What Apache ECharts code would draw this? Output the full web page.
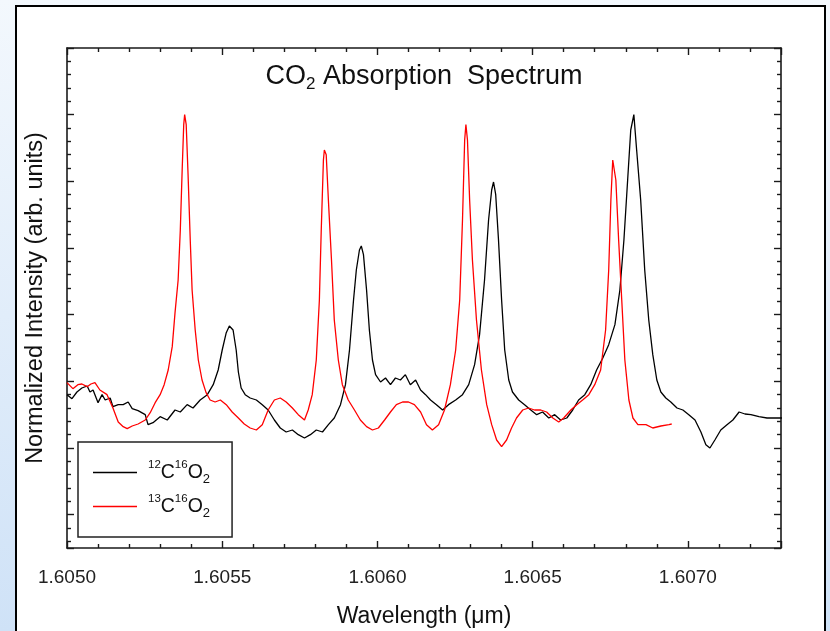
<!DOCTYPE html>
<html><head><meta charset="utf-8">
<script src="https://cdn.jsdelivr.net/npm/echarts@6/dist/echarts.min.js"></script>
<style>
html,body{margin:0;padding:0;width:830px;height:631px;overflow:hidden;background:linear-gradient(to bottom,#f3f8fd,#cfe2f7);}
#frame{position:absolute;left:15px;top:5px;width:807px;height:640px;border:2px solid #000;background:#fff;}
#chart{position:absolute;left:0;top:0;width:830px;height:631px;}
</style></head><body><div id="frame"></div><div id="chart"></div>
<script>
// Wavelength axis (micrometres)
const xMin = 1.6050, xMax = 1.6073, xStep = 0.0005;
const yMin = -0.05, yMax = 0.70;

// 12C16O2 spectrum
const wl12 = [1.605000,1.605016,1.605032,1.605048,1.605065,1.605074,1.605084,1.605100,1.605113,1.605123,1.605139,1.605148,1.605165,1.605181,1.605197,1.605210,1.605229,1.605252,1.605261,1.605277,1.605300,1.605323,1.605348,1.605365,1.605387,1.605406,1.605429,1.605452,1.605471,1.605487,1.605500,1.605513,1.605523,1.605529,1.605535,1.605545,1.605552,1.605561,1.605574,1.605590,1.605610,1.605629,1.605648,1.605668,1.605687,1.605706,1.605726,1.605745,1.605765,1.605784,1.605803,1.605823,1.605842,1.605861,1.605881,1.605897,1.605910,1.605923,1.605932,1.605942,1.605948,1.605955,1.605965,1.605974,1.605984,1.605994,1.606010,1.606026,1.606042,1.606058,1.606074,1.606090,1.606106,1.606123,1.606139,1.606155,1.606171,1.606190,1.606210,1.606229,1.606252,1.606274,1.606294,1.606313,1.606329,1.606345,1.606358,1.606368,1.606374,1.606381,1.606390,1.606400,1.606410,1.606423,1.606435,1.606455,1.606474,1.606494,1.606513,1.606532,1.606552,1.606571,1.606590,1.606610,1.606629,1.606648,1.606668,1.606687,1.606706,1.606726,1.606745,1.606765,1.606781,1.606794,1.606806,1.606816,1.606826,1.606835,1.606848,1.606861,1.606874,1.606887,1.606900,1.606913,1.606929,1.606945,1.606965,1.606984,1.607003,1.607023,1.607042,1.607058,1.607071,1.607087,1.607106,1.607126,1.607145,1.607165,1.607184,1.607203,1.607229,1.607255,1.607281,1.607303];
const int12 = [0.180,0.174,0.184,0.190,0.193,0.184,0.187,0.168,0.180,0.172,
0.175,0.162,0.165,0.165,0.169,0.159,0.156,0.150,0.135,0.138,
0.147,0.142,0.157,0.154,0.165,0.160,0.172,0.180,0.195,0.217,
0.247,0.273,0.283,0.285,0.277,0.247,0.214,0.190,0.180,0.175,
0.172,0.165,0.157,0.142,0.130,0.124,0.127,0.120,0.115,0.120,
0.127,0.124,0.135,0.145,0.165,0.195,0.247,0.322,0.367,0.397,
0.403,0.390,0.337,0.277,0.232,0.210,0.199,0.205,0.195,0.205,
0.202,0.210,0.195,0.202,0.187,0.180,0.172,0.165,0.157,0.165,
0.172,0.180,0.195,0.225,0.270,0.352,0.442,0.487,0.499,0.480,
0.412,0.322,0.247,0.202,0.184,0.172,0.165,0.157,0.150,0.154,
0.145,0.150,0.142,0.145,0.157,0.172,0.180,0.195,0.217,0.235,
0.255,0.285,0.337,0.412,0.502,0.577,0.600,0.547,0.472,0.367,
0.292,0.240,0.202,0.184,0.175,0.169,0.160,0.157,0.150,0.142,
0.124,0.105,0.100,0.112,0.127,0.135,0.142,0.154,0.151,0.150,
0.147,0.145,0.145,0.145];

// 13C16O2 spectrum
const wl13 = [1.605000,1.605019,1.605035,1.605048,1.605065,1.605077,1.605090,1.605106,1.605129,1.605148,1.605165,1.605181,1.605194,1.605210,1.605229,1.605252,1.605268,1.605284,1.605300,1.605313,1.605326,1.605339,1.605348,1.605358,1.605365,1.605371,1.605376,1.605379,1.605384,1.605390,1.605397,1.605403,1.605413,1.605423,1.605435,1.605448,1.605461,1.605477,1.605494,1.605513,1.605532,1.605552,1.605571,1.605590,1.605610,1.605629,1.605648,1.605668,1.605687,1.605706,1.605726,1.605745,1.605765,1.605777,1.605790,1.605803,1.605813,1.605819,1.605826,1.605829,1.605835,1.605842,1.605852,1.605861,1.605874,1.605887,1.605906,1.605926,1.605945,1.605965,1.605984,1.606003,1.606023,1.606042,1.606061,1.606081,1.606100,1.606119,1.606139,1.606158,1.606177,1.606197,1.606216,1.606235,1.606252,1.606265,1.606274,1.606281,1.606285,1.606290,1.606297,1.606306,1.606319,1.606335,1.606352,1.606368,1.606384,1.606400,1.606416,1.606432,1.606448,1.606468,1.606487,1.606506,1.606526,1.606545,1.606565,1.606584,1.606600,1.606623,1.606642,1.606661,1.606681,1.606700,1.606719,1.606735,1.606745,1.606752,1.606758,1.606761,1.606768,1.606777,1.606787,1.606797,1.606810,1.606823,1.606839,1.606865,1.606887,1.606913,1.606939,1.606948];
const int13 = [0.198,0.189,0.195,0.196,0.192,0.196,0.198,0.187,0.180,0.160,
0.139,0.132,0.129,0.133,0.136,0.142,0.153,0.168,0.180,0.195,
0.217,0.252,0.303,0.352,0.427,0.517,0.585,0.600,0.585,0.510,
0.412,0.337,0.277,0.232,0.202,0.183,0.172,0.169,0.172,0.165,
0.154,0.145,0.136,0.130,0.127,0.135,0.157,0.172,0.175,0.169,
0.160,0.150,0.142,0.157,0.180,0.232,0.322,0.427,0.532,0.547,
0.540,0.472,0.382,0.292,0.232,0.195,0.172,0.157,0.142,0.132,
0.127,0.130,0.142,0.154,0.165,0.169,0.169,0.165,0.154,0.135,
0.127,0.135,0.157,0.195,0.247,0.322,0.442,0.562,0.585,0.562,
0.472,0.382,0.292,0.217,0.165,0.135,0.112,0.102,0.112,0.130,
0.145,0.157,0.160,0.157,0.157,0.154,0.145,0.139,0.145,0.157,
0.165,0.172,0.180,0.195,0.217,0.277,0.367,0.472,0.532,0.535,
0.502,0.412,0.322,0.232,0.172,0.145,0.135,0.135,0.130,0.133,
0.135,0.136];

const seriesNames = ['12C16O2', '13C16O2'];
const legendRich = {
  '12C16O2': '{supL|12}{m|C}{sup|16}{m|O}{sub|2}',
  '13C16O2': '{supL|13}{m|C}{sup|16}{m|O}{sub|2}'
};

const FONT = "'Liberation Sans', Arial, sans-serif";
const AX = '#1a1a1a';
const zip = (xs, ys) => xs.map((x, i) => [x, ys[i]]);

function xAxisCfg(pos, showLabel) {
  return {
    type: 'value', position: pos, min: xMin, max: xMax, interval: xStep,
    axisLine: { show: true, onZero: false, lineStyle: { color: AX, width: 1.6 } },
    axisTick: { show: true, inside: true, length: 7, lineStyle: { color: AX, width: 1.4 } },
    minorTick: { show: true, splitNumber: 5, length: 4, lineStyle: { color: AX, width: 1.4 } },
    splitLine: { show: false }, minorSplitLine: { show: false },
    axisLabel: {
      show: showLabel, margin: 20, fontSize: 19, color: '#222', fontFamily: FONT,
      formatter: v => Math.abs(v / xStep - Math.round(v / xStep)) < 1e-6 ? v.toFixed(4) : ''
    },
    name: showLabel ? 'Wavelength (\u03BCm)' : '', nameLocation: 'middle', nameGap: 57,
    nameTextStyle: { fontSize: 23, color: '#111', fontFamily: FONT }
  };
}
function yAxisCfg(pos, showName) {
  return {
    type: 'value', position: pos, min: yMin, max: yMax, splitNumber: 8,
    axisLine: { show: true, onZero: false, lineStyle: { color: AX, width: 1.6 } },
    axisTick: { show: true, inside: true, length: 7, lineStyle: { color: AX, width: 1.4 } },
    minorTick: { show: true, splitNumber: 5, length: 4, lineStyle: { color: AX, width: 1.4 } },
    splitLine: { show: false }, minorSplitLine: { show: false },
    axisLabel: { show: false },
    name: showName ? 'Normalized Intensity (arb. units)' : '', nameLocation: 'middle', nameGap: 19,
    nameTextStyle: { fontSize: 23.5, color: '#111', fontFamily: FONT }
  };
}

const chart = echarts.init(document.getElementById('chart'), null, { renderer: 'canvas' });
chart.setOption({
  animation: false,
  backgroundColor: 'transparent',
  title: {
    text: '{m|CO}{s|2}{m| Absorption  Spectrum}',
    left: 424, top: 61, padding: 0, textAlign: 'center',
    textStyle: {
      fontWeight: 'normal',
      rich: {
        m: { fontSize: 27, lineHeight: 32, color: '#111', fontFamily: FONT, fontWeight: 'normal' },
        s: { fontSize: 17, lineHeight: 16, verticalAlign: 'bottom', color: '#111', fontFamily: FONT, fontWeight: 'normal' }
      }
    }
  },
  grid: { left: 67, right: 49, top: 48, bottom: 83, containLabel: false, outerBoundsMode: 'none' },
  xAxis: [xAxisCfg('bottom', true), xAxisCfg('top', false)],
  yAxis: [yAxisCfg('left', true), yAxisCfg('right', false)],
  legend: {
    data: seriesNames, orient: 'vertical', left: 78, top: 442,
    icon: 'rect', itemWidth: 44, itemHeight: 1.5, itemGap: 7,
    padding: [17, 22, 17, 15], borderColor: '#222', borderWidth: 1.5, backgroundColor: '#fff',
    selectedMode: false,
    formatter: n => legendRich[n],
    textStyle: {
      rich: {
        m: { fontSize: 19.5, lineHeight: 27, color: '#111', fontFamily: FONT },
        sup: { fontSize: 11.5, lineHeight: 9, verticalAlign: 'top', color: '#111', fontFamily: FONT },
        supL: { fontSize: 11.5, lineHeight: 9, verticalAlign: 'top', color: '#111', fontFamily: FONT, padding: [0, 0, 0, 6] },
        sub: { fontSize: 13, lineHeight: 12.5, verticalAlign: 'bottom', color: '#111', fontFamily: FONT }
      }
    }
  },
  series: [
    { name: seriesNames[0], type: 'line', symbol: 'none', showSymbol: false,
      lineStyle: { color: '#000', width: 1.3 }, itemStyle: { color: '#000' },
      data: zip(wl12, int12), xAxisIndex: 0, yAxisIndex: 0 },
    { name: seriesNames[1], type: 'line', symbol: 'none', showSymbol: false,
      lineStyle: { color: '#ff0000', width: 1.3 }, itemStyle: { color: '#ff0000' },
      data: zip(wl13, int13), xAxisIndex: 0, yAxisIndex: 0 }
  ]
});
</script></body></html>
